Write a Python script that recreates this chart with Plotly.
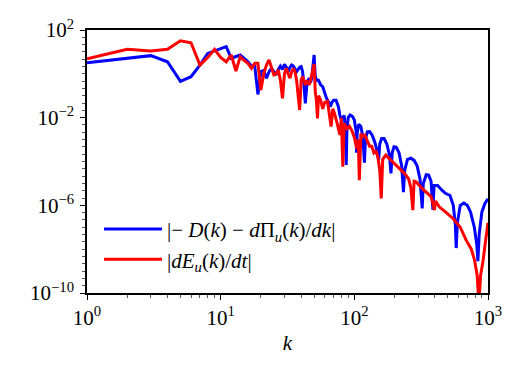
import plotly.graph_objects as go
import numpy as np

# ---- data ----
k_blue = [1, 2, 3, 4, 5, 6, 7, 8, 9, 10, 11, 12, 13, 14, 15, 16, 17, 18, 19, 20,
          21, 22, 23, 24, 25, 26, 27, 28, 29, 30, 31, 32, 33, 34, 35, 36, 37, 38, 39, 40,
          41, 42, 43, 44, 45, 46, 47, 48, 49, 50, 51, 52, 53, 54, 55, 56, 58, 60, 62, 64,
          66, 68, 70, 73, 76, 78, 80, 84, 86, 87, 88, 90, 93, 97, 100, 103, 104, 105, 108, 112,
          116, 119, 121, 125, 130, 136, 142, 148, 152, 155, 160, 167, 175, 183, 188, 192, 198, 206, 216, 226,
          233, 238, 250, 265, 280, 295, 310, 322, 328, 345, 360, 375, 387, 395, 420, 450, 480, 520, 550, 570,
          578, 590, 620, 660, 700, 740, 790, 825, 840, 860, 900, 950, 1000]
e_blue = [0.51, 0.71, 0.83, 0.55, -0.34, -0.13, 0.40, 0.93, 1.05, 1.15, 1.24, 0.71, 0.80, 0.86, 0.70, 0.55, 0.35, 0.35, -0.94, 0.10,
          0.15, -0.20, 0.10, 0.25, 0.10, -0.05, 0.20, 0.35, 0.20, 0.43, 0.30, 0.10, 0.30, 0.40, 0.35, 0.20, 0.10, 0.20, 0.30, 0.33,
          0.10, -0.50, -1.35, -0.60, -0.30, -0.20, -0.40, -0.20, 0.30, 0.86, -0.10, -0.30, -0.28, -0.30, -0.40, -0.50, -0.59, -0.90, -1.12, -1.27,
          -1.50, -1.30, -1.20, -1.20, -1.50, -1.90, -2.11, -1.90, -2.60, -4.16, -2.60, -2.00, -1.88, -1.95, -2.11, -2.60, -3.60, -2.70, -2.30, -2.40,
          -2.90, -4.05, -3.00, -2.65, -2.64, -2.80, -3.10, -3.50, -3.94, -3.20, -2.95, -2.95, -3.20, -3.70, -4.54, -3.60, -3.33, -3.35, -3.60, -4.20,
          -5.40, -4.40, -3.90, -3.85, -3.95, -4.20, -4.80, -6.14, -5.00, -4.60, -4.62, -4.90, -6.20, -5.10, -5.10, -5.30, -5.45, -5.55, -6.00, -6.90,
          -7.95, -6.80, -6.00, -5.90, -6.00, -6.30, -7.00, -7.80, -8.55, -7.30, -6.30, -5.90, -5.70]
v_blue = [10.0 ** e for e in e_blue]

k_red = [1, 2, 3, 4, 5, 6, 7, 8, 9, 10, 11, 12, 13, 14, 15, 16, 17, 18, 19, 20,
         21, 22, 23, 24, 25, 26, 27, 28, 29, 30, 31, 32, 33, 34, 35, 36, 37, 38, 39, 40,
         41, 42, 43, 44, 45, 46, 47, 48, 49, 50, 51, 52, 53, 54, 56, 58, 60, 63, 65, 67,
         69, 71, 74, 78, 80, 82, 84, 88, 92, 96, 100, 104, 107, 109, 112, 115, 120, 125, 130, 135,
         140, 145, 150, 155, 159, 163, 172, 185, 199, 215, 237, 255, 265, 274, 280, 290, 305, 330, 360, 376,
         390, 398, 405, 432, 480, 547, 620, 686, 750, 793, 830, 855, 880, 920, 960, 1000]
e_red = [0.69, 1.12, 1.04, 1.12, 1.51, 1.42, 0.40, 0.75, 1.12, 0.75, 0.55, 0.86, 0.13, 0.78, 0.60, 0.48, 0.25, 0.48, 0.48, -0.74,
         0.00, 0.40, 0.63, 0.30, -0.05, 0.00, 0.17, -0.30, -1.12, 0.00, 0.25, 0.00, -0.20, 0.10, 0.25, 0.10, -0.30, -1.00, -1.65, -0.28,
         -0.13, -0.30, -0.51, -0.30, -0.40, -0.50, -0.30, -0.10, 0.20, 0.45, -0.80, -1.20, -2.03, -1.00, -1.20, -1.60, -1.30, -1.25, -1.80, -2.41,
         -1.60, -1.80, -2.20, -2.79, -2.00, -4.24, -2.26, -2.50, -2.40, -2.60, -2.90, -3.40, -3.00, -4.85, -2.72, -2.87, -2.80, -3.10, -3.30, -3.30,
         -3.60, -3.50, -3.80, -4.40, -5.68, -3.90, -3.71, -3.90, -4.09, -4.30, -4.54, -4.80, -5.20, -6.22, -4.90, -4.93, -5.08, -5.30, -5.50, -5.61,
         -6.00, -6.22, -5.80, -6.07, -6.30, -6.60, -7.00, -7.59, -8.00, -8.50, -9.20, -10.50, -9.20, -8.50, -7.60, -6.80]
v_red = [10.0 ** e for e in e_red]

label_blue = "|− <i>D</i>(<i>k</i>) − <i>d</i>Π<sub><i>u</i></sub>(<i>k</i>)/<i>dk</i>|"
label_red = "|<i>dE</i><sub><i>u</i></sub>(<i>k</i>)/<i>dt</i>|"

x_ticks = [1, 10, 100, 1000]
x_ticktext = ["10<sup>0</sup>", "10<sup>1</sup>", "10<sup>2</sup>", "10<sup>3</sup>"]
y_ticks = [1e2, 1e-2, 1e-6, 1e-10]
y_ticktext = ["10<sup>2</sup>", "10<sup>−2</sup>", "10<sup>−6</sup>", "10<sup>−10</sup>"]

x_minor = [m * 10.0 ** d for d in range(0, 3) for m in range(2, 10)]
y_minor = [10.0 ** (d + f) for d in range(-10, 2) for f in (0.0, 1 / 3, 2 / 3)] + [100.0]

FONT = "Liberation Serif"

fig = go.Figure()
fig.add_trace(go.Scatter(x=k_blue, y=v_blue, mode="lines", name=label_blue,
                         line=dict(color="#0000ff", width=3)))
fig.add_trace(go.Scatter(x=k_red, y=v_red, mode="lines", name=label_red,
                         line=dict(color="#ff0000", width=3)))

axis_common = dict(showline=True, linecolor="black", linewidth=1.5, mirror=True,
                   showgrid=False, zeroline=False, ticks="outside", ticklen=5,
                   tickwidth=1, tickcolor="black",
                   tickfont=dict(family=FONT, size=21, color="black"))

fig.update_xaxes(type="log", range=[0, 3], tickmode="array", tickvals=x_ticks,
                 ticktext=x_ticktext,
                 title=dict(text="<i>k</i>", font=dict(family=FONT, size=21, color="black"), standoff=6),
                 minor=dict(tickmode="array", tickvals=x_minor, ticks="outside", ticklen=3,
                            tickcolor="#555555", tickwidth=1),
                 **axis_common)
fig.update_yaxes(type="log", range=[-10, 2], tickmode="array", tickvals=y_ticks,
                 ticktext=y_ticktext, ticklabelstandoff=2,
                 minor=dict(tickmode="array", tickvals=y_minor, ticks="outside", ticklen=3,
                            tickcolor="#555555", tickwidth=1),
                 **axis_common)

fig.update_layout(
    width=525, height=375,
    margin=dict(l=87, r=37, t=30, b=82),
    paper_bgcolor="white", plot_bgcolor="white",
    font=dict(family=FONT, size=18, color="black"),
    showlegend=True,
    legend=dict(x=0.03, y=0.05, xanchor="left", yanchor="bottom",
                bgcolor="rgba(255,255,255,0)", borderwidth=0,
                font=dict(family=FONT, size=21, color="black"),
                itemwidth=58),
)

fig.write_html("out.html")
